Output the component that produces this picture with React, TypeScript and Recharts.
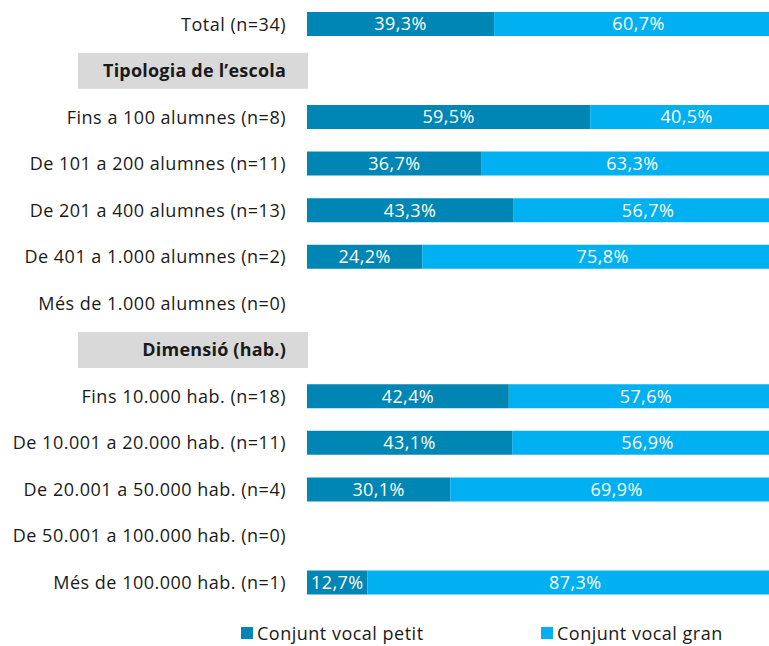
import React from "react";
import { BarChart, Bar, XAxis, YAxis, Legend, LabelList } from "recharts";

const categories = [
  "Total (n=34)",
  "Tipologia de l’escola",
  "Fins a 100 alumnes (n=8)",
  "De 101 a 200 alumnes (n=11)",
  "De 201 a 400 alumnes (n=13)",
  "De 401 a 1.000 alumnes (n=2)",
  "Més de 1.000 alumnes (n=0)",
  "Dimensió (hab.)",
  "Fins 10.000 hab. (n=18)",
  "De 10.001 a 20.000 hab. (n=11)",
  "De 20.001 a 50.000 hab. (n=4)",
  "De 50.001 a 100.000 hab. (n=0)",
  "Més de 100.000 hab. (n=1)",
];
const headers = ["Tipologia de l’escola", "Dimensió (hab.)"];

const petit = [39.3, null, 59.5, 36.7, 43.3, 24.2, null, null, 42.4, 43.1, 30.1, null, 12.7];
const gran = [60.7, null, 40.5, 63.3, 56.7, 75.8, null, null, 57.6, 56.9, 69.9, null, 87.3];

const seriesNames = ["Conjunt vocal petit", "Conjunt vocal gran"];
const colors = ["#0086B4", "#00B0F0"];

const data = categories.map((name, i) => ({ name, petit: petit[i], gran: gran[i] }));

const font = "'Open Sans', 'Noto Sans', sans-serif";
const fs = 18;

const fmt = (v: any) => (v == null ? "" : Number(v).toFixed(1).replace(".", ",") + "%");

function CatTick(props: any) {
  const { x, y, payload } = props;
  const label = payload.value as string;
  const tx = x - 13;
  const common = {
    x: tx,
    y,
    dy: "0.35em",
    textAnchor: "end" as const,
    fontFamily: font,
    fontSize: fs,
    fill: "#1a1a1a",
    letterSpacing: 0.5,
  };
  if (headers.includes(label)) {
    return (
      <g>
        <rect x={78} y={y - 18} width={x + 9 - 78} height={36} fill="#D9D9D9" />
        <text {...common} fontWeight={700} letterSpacing={0.2}>
          {label}
        </text>
      </g>
    );
  }
  return <text {...common}>{label}</text>;
}

function LegendContent() {
  const pos = [241, 541];
  return (
    <div style={{ position: "relative", height: 40, fontFamily: font, fontSize: 18, letterSpacing: 0.5, color: "#1a1a1a" }}>
      {seriesNames.map((n, i) => (
        <div key={n} style={{ position: "absolute", left: pos[i], top: 15, display: "flex", alignItems: "center" }}>
          <span style={{ display: "inline-block", width: 12, height: 12, background: colors[i], marginRight: 4 }} />
          <span>{n}</span>
        </div>
      ))}
    </div>
  );
}

export default function App() {
  return (
    <div style={{ position: "absolute", left: 0, top: 0, width: 769, height: 646, overflow: "hidden", background: "#fff" }}>
      <BarChart
        width={785}
        height={646}
        data={data}
        layout="vertical"
        margin={{ top: 1, right: 2, bottom: 0, left: 0 }}
        barCategoryGap={0}
      >
        <XAxis type="number" domain={[0, 100]} hide />
        <YAxis
          type="category"
          dataKey="name"
          width={307}
          axisLine={false}
          tickLine={false}
          interval={0}
          tick={<CatTick />}
        />
        <Legend
          verticalAlign="bottom"
          height={40}
          content={<LegendContent />}
          wrapperStyle={{ left: 0, width: 769 }}
        />
        <Bar dataKey="petit" name={seriesNames[0]} stackId="a" fill={colors[0]} barSize={24} isAnimationActive={false}>
          <LabelList dataKey="petit" position="center" formatter={fmt} fill="#fff" fontFamily={font} fontSize={fs} letterSpacing={0.4} />
        </Bar>
        <Bar dataKey="gran" name={seriesNames[1]} stackId="a" fill={colors[1]} barSize={24} isAnimationActive={false}>
          <LabelList dataKey="gran" position="center" formatter={fmt} fill="#fff" fontFamily={font} fontSize={fs} letterSpacing={0.4} />
        </Bar>
      </BarChart>
    </div>
  );
}
